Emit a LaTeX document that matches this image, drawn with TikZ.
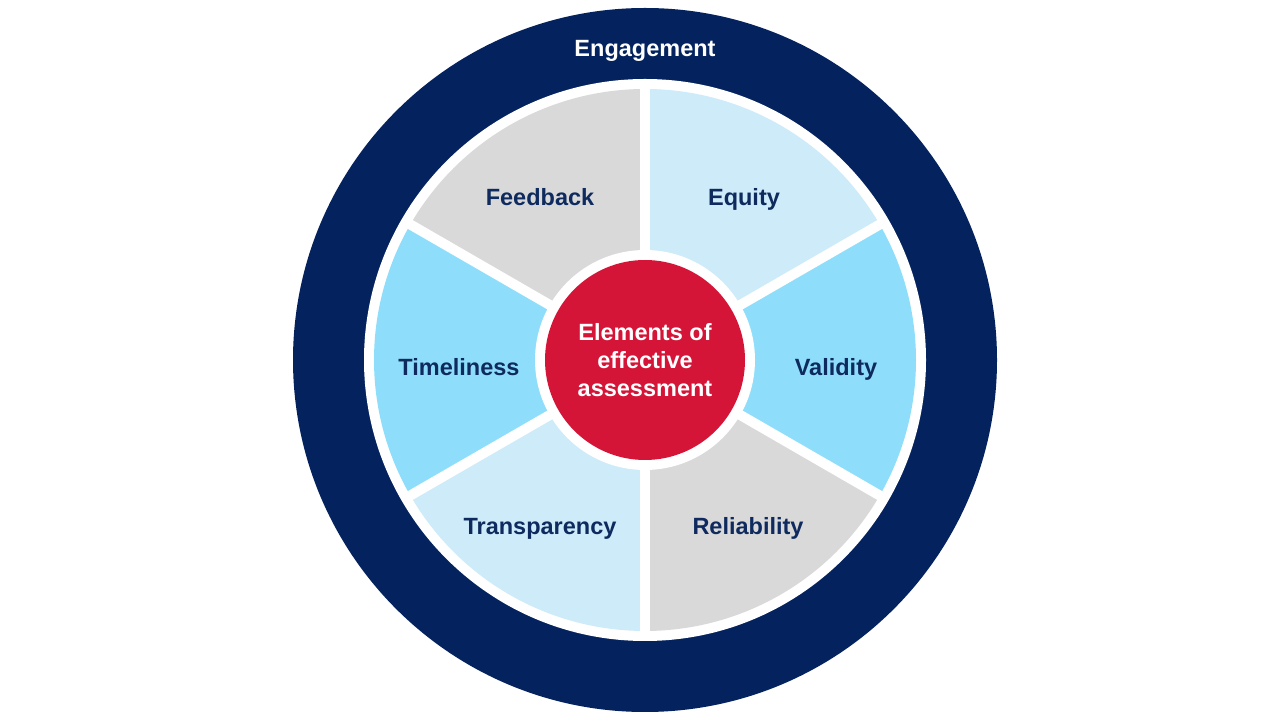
\documentclass[tikz,border=0pt]{standalone}
\usepackage{fontspec}
\setmainfont{Liberation Sans}
\definecolor{navy}{HTML}{04235E}
\definecolor{txtnavy}{HTML}{0E2A5E}
\definecolor{redc}{HTML}{D51538}
\definecolor{lblue}{HTML}{CDEBF9}
\definecolor{bblue}{HTML}{8EDEFB}
\definecolor{greyc}{HTML}{D9D9D9}
\begin{document}
\begin{tikzpicture}[x=1pt,y=1pt,
  seglabel/.style={text=txtnavy, anchor=base, inner sep=0pt, font=\fontsize{23.5}{28}\selectfont\bfseries},
  disc/.style={circle, inner sep=0pt, draw=none}]
\useasboundingbox (0,0) rectangle (1280,720);
\fill[white] (0,0) rectangle (1280,720);
\coordinate (c) at (645,360);
\node[disc, fill=navy, minimum size=704pt] (outer) at (c) {};
\node[disc, fill=white, minimum size=562pt] (ring) at (c) {};
% segments
\fill[greyc] (c) -- ++(90:271) arc[start angle=90, end angle=150, radius=271] -- cycle;
\fill[lblue] (c) -- ++(30:271) arc[start angle=30, end angle=90, radius=271] -- cycle;
\fill[bblue] (c) -- ++(-30:271) arc[start angle=-30, end angle=30, radius=271] -- cycle;
\fill[greyc] (c) -- ++(-90:271) arc[start angle=-90, end angle=-30, radius=271] -- cycle;
\fill[lblue] (c) -- ++(-150:271) arc[start angle=-150, end angle=-90, radius=271] -- cycle;
\fill[bblue] (c) -- ++(150:271) arc[start angle=150, end angle=210, radius=271] -- cycle;
\foreach \a in {90,30,-30,-90,-150,150}
  \draw[white, line width=10pt] (c) -- ++(\a:276);
\node[disc, fill=white, minimum size=220pt] (gap) at (c) {};
\node[disc, fill=redc, minimum size=200pt, text=white, align=center,
  font=\fontsize{23.5}{28}\selectfont\bfseries] (centre) at (c) {Elements of\\effective\\assessment};
\node[text=white, anchor=base, inner sep=0pt, font=\fontsize{23.5}{28}\selectfont\bfseries] (eng) at (645,663) {Engagement};
\node[seglabel] (feedback) at (540,514) {Feedback};
\node[seglabel] (equity) at (744,514) {Equity};
\node[seglabel] (timeliness) at (459,344) {Timeliness};
\node[seglabel] (validity) at (836,344) {Validity};
\node[seglabel] (transparency) at (540,185) {Transparency};
\node[seglabel] (reliability) at (748,185) {Reliability};
\end{tikzpicture}
\end{document}
